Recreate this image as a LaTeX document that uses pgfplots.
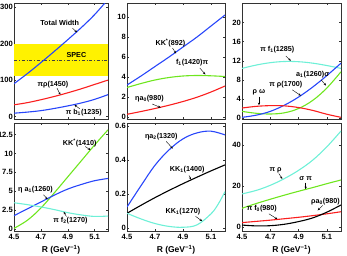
\documentclass[border=0pt]{standalone}
\usepackage{fontspec}
\setmainfont{Liberation Sans}
\usepackage{pgfplots}
\pgfplotsset{compat=1.18}
\usetikzlibrary{arrows.meta}
\definecolor{mblue}{RGB}{40,70,250}
\definecolor{mred}{RGB}{250,30,30}
\definecolor{mgreen}{RGB}{110,230,30}
\definecolor{mcyan}{RGB}{110,240,215}
\newcommand{\anno}{\bfseries\fontsize{7.2}{7.5}\selectfont}
\tikzset{arr/.style={-{Stealth[length=2.6pt,width=2.2pt]}, line width=0.4pt, black}}
\pgfplotsset{
  pan/.style={scale only axis, anchor=north west,
    xmin=4.5, xmax=5.2, xtick={4.5,4.7,4.9,5.1},
    tick align=inside, major tick length=2pt,
    axis line style={line width=0.5pt, black!80},
    tick style={black!80, line width=0.4pt},
    ticklabel style={font=\bfseries\fontsize{7.6}{8}\selectfont},
    /pgf/number format/assume math mode=true,
    /pgf/number format/fixed,
    xticklabel style={/pgf/number format/precision=1, /pgf/number format/fixed zerofill},
    yticklabel style={inner xsep=1pt},
    scaled y ticks=false,
    every axis plot/.append style={line width=1.1pt, smooth, tension=0.6, mark=none},
    xlabel style={font=\bfseries\fontsize{8.5}{9}\selectfont, yshift=1pt},
  },
  ptop/.style={pan, xticklabels={}},
  pbot/.style={pan, xlabel={R (GeV\textsuperscript{−1})}},
}
\begin{document}
\begin{tikzpicture}
\path[use as bounding box] (0,0) rectangle (347pt,-255pt);
% ---------------- Panel 1
\begin{axis}[ptop, at={(14pt,-3pt)}, width=94pt, height=116pt,
  ymin=-7, ymax=312, ytick={0,100,200,300}]
\addplot[fill=yellow, draw=none, line width=0pt, sharp plot] coordinates {(4.5,110) (5.2,110) (5.2,200) (4.5,200)} -- cycle;
\addplot[black!75, line width=0.5pt, dash dot, sharp plot] coordinates {(4.5,155) (5.2,155)};
\addplot[mblue] coordinates {(4.5,90) (4.6,118) (4.7,148) (4.8,179) (4.9,211) (5.0,244) (5.1,280) (5.2,322)};
\addplot[mred] coordinates {(4.5,32) (4.6,38) (4.7,46) (4.8,55) (4.9,65) (5.0,76) (5.1,88) (5.2,100)};
\addplot[mblue] coordinates {(4.5,9) (4.6,12) (4.7,16) (4.8,22) (4.9,29) (5.0,37) (5.1,47) (5.2,60)};
\node[font=\anno] at (axis cs:4.84,256) {Total Width};
\draw[arr] (axis cs:4.935,243) -- (axis cs:4.97,231);
\node[font=\anno] at (axis cs:4.965,170) {SPEC};
\node[font=\anno] at (axis cs:4.79,87) {πρ(1450)};
\draw[arr] (axis cs:4.82,78) -- (axis cs:4.845,60);
\node[font=\anno] at (axis cs:5.02,10) {π b\textsubscript{1}(1235)};
\draw[arr] (axis cs:4.99,21) -- (axis cs:4.95,32);
\end{axis}
% ---------------- Panel 2
\begin{axis}[ptop, at={(127pt,-3pt)}, width=98pt, height=116pt,
  ymin=-0.2, ymax=11.4, ytick={0,2,4,6,8,10}]
\addplot[mblue] coordinates {(4.5,3.2) (4.6,4.1) (4.7,5.05) (4.8,6.0) (4.9,7.0) (5.0,8.0) (5.1,9.1) (5.2,10.2)};
\addplot[mgreen] coordinates {(4.5,2.95) (4.6,3.35) (4.7,3.7) (4.8,3.95) (4.9,4.1) (5.0,4.15) (5.1,4.12) (5.2,4.05)};
\addplot[mred] coordinates {(4.5,0.27) (4.6,0.55) (4.7,0.85) (4.8,1.18) (4.9,1.55) (5.0,1.98) (5.1,2.5) (5.2,3.1)};
\node[font=\anno] at (axis cs:4.81,7.4) {KK\textsuperscript{*}(892)};
\draw[arr] (axis cs:4.825,6.9) -- (axis cs:4.85,6.35);
\node[font=\anno] at (axis cs:4.965,5.4) {f\textsubscript{1}(1420)π};
\draw[arr] (axis cs:5.02,4.9) -- (axis cs:5.06,4.25);
\node[font=\anno] at (axis cs:4.66,1.85) {ηa\textsubscript{0}(980)};
\draw[arr] (axis cs:4.68,1.3) -- (axis cs:4.74,0.95);
\end{axis}
% ---------------- Panel 3
\begin{axis}[ptop, at={(242pt,-3pt)}, width=99pt, height=116pt,
  ymin=-0.2, ymax=24.1, ytick={0,4,8,12,16,20}]
\addplot[mcyan] coordinates {(4.5,10.4) (4.6,11.1) (4.7,11.6) (4.8,11.85) (4.9,11.8) (5.0,11.5) (5.1,11.0) (5.2,10.4)};
\addplot[mgreen] coordinates {(4.5,1.4) (4.6,1.0) (4.7,0.85) (4.8,1.1) (4.9,2.0) (5.0,3.7) (5.1,6.3) (5.2,9.7)};
\addplot[mblue] coordinates {(4.5,0.15) (4.6,0.6) (4.7,1.4) (4.8,2.7) (4.9,4.4) (5.0,6.5) (5.1,8.9) (5.2,11.5)};
\addplot[mred] coordinates {(4.5,2.1) (4.6,2.45) (4.7,2.6) (4.8,2.55) (4.9,2.2) (5.0,1.6) (5.1,0.8) (5.2,0.15)};
\node[font=\anno] at (axis cs:4.75,14.3) {π f\textsubscript{1}(1285)};
\draw[arr] (axis cs:4.81,13.0) -- (axis cs:4.845,12.0);
\node[font=\anno] at (axis cs:5.0,9.1) {a\textsubscript{1}(1260)σ};
\draw[arr] (axis cs:5.06,8.0) -- (axis cs:5.094,6.8);
\node[font=\anno] at (axis cs:4.81,7.0) {π ρ(1700)};
\draw[arr] (axis cs:4.856,5.9) -- (axis cs:4.916,4.7);
\node[font=\anno] at (axis cs:4.62,5.4) {ρ ω};
\draw[arr] (axis cs:4.62,4.5) -- (axis cs:4.62,2.7);
\end{axis}
% ---------------- Panel 4
\begin{axis}[pbot, at={(14pt,-123pt)}, width=94pt, height=108pt,
  ymin=-0.22, ymax=14.0, ytick={0,2.5,5,7.5,10,12.5}]
\addplot[mgreen] coordinates {(4.5,0.13) (4.6,1.2) (4.7,2.8) (4.8,4.8) (4.9,6.9) (5.0,9.0) (5.1,11.1) (5.2,13.1)};
\addplot[mblue] coordinates {(4.5,1.8) (4.6,2.7) (4.7,3.6) (4.8,4.5) (4.9,5.3) (5.0,5.9) (5.1,6.4) (5.2,6.7)};
\addplot[mcyan] coordinates {(4.5,3.5) (4.6,3.25) (4.7,2.95) (4.8,2.6) (4.9,2.2) (5.0,1.9) (5.1,1.7) (5.2,1.75)};
\node[font=\anno] at (axis cs:4.99,11.4) {KK\textsuperscript{*}(1410)};
\draw[arr] (axis cs:5.03,10.9) -- (axis cs:5.07,10.45);
\node[font=\anno] at (axis cs:4.66,5.2) {η a\textsubscript{1}(1260)};
\draw[arr] (axis cs:4.72,4.55) -- (axis cs:4.75,3.95);
\node[font=\anno] at (axis cs:4.92,1.2) {π f\textsubscript{2}(1270)};
\draw[arr] (axis cs:4.89,1.7) -- (axis cs:4.87,2.3);
\end{axis}
% ---------------- Panel 5
\begin{axis}[pbot, at={(127pt,-123pt)}, width=98pt, height=108pt,
  ymin=-0.016, ymax=0.618, ytick={0,0.2,0.4,0.6}]
\addplot[mblue] coordinates {(4.5,0.125) (4.6,0.25) (4.7,0.37) (4.8,0.46) (4.9,0.525) (5.0,0.56) (5.1,0.57) (5.2,0.548)};
\addplot[black] coordinates {(4.5,0.088) (4.6,0.135) (4.7,0.18) (4.8,0.222) (4.9,0.262) (5.0,0.3) (5.1,0.337) (5.2,0.372)};
\addplot[mcyan] coordinates {(4.5,0.088) (4.6,0.055) (4.7,0.028) (4.8,0.011) (4.9,0.006) (5.0,0.02) (5.1,0.085) (5.15,0.14) (5.2,0.215)};
\node[font=\anno] at (axis cs:4.745,0.539) {ηa\textsubscript{2}(1320)};
\draw[arr] (axis cs:4.78,0.51) -- (axis cs:4.827,0.468);
\node[font=\anno] at (axis cs:4.93,0.343) {KK\textsubscript{1}(1400)};
\draw[arr] (axis cs:4.943,0.31) -- (axis cs:4.957,0.286);
\node[font=\anno] at (axis cs:4.9,0.098) {KK\textsubscript{1}(1270)};
\draw[arr] (axis cs:4.99,0.07) -- (axis cs:5.037,0.042);
\end{axis}
% ---------------- Panel 6
\begin{axis}[pbot, at={(242pt,-123pt)}, width=99pt, height=108pt,
  ymin=-1.8, ymax=50.9, ytick={0,20,40}]
\addplot[mcyan] coordinates {(4.5,16.3) (4.6,18.0) (4.7,20.5) (4.8,23.8) (4.9,27.8) (5.0,32.8) (5.1,39.3) (5.2,47)};
\addplot[mgreen] coordinates {(4.5,9.3) (4.6,11.6) (4.7,13.7) (4.8,15.7) (4.9,17.6) (5.0,19.4) (5.1,21.3) (5.2,23.1)};
\addplot[mred] coordinates {(4.5,2.3) (4.6,2.9) (4.7,3.5) (4.8,4.2) (4.9,4.9) (5.0,5.7) (5.1,6.6) (5.2,7.6)};
\addplot[black] coordinates {(4.5,1.1) (4.6,0.7) (4.7,0.8) (4.8,1.5) (4.9,2.8) (5.0,4.6) (5.1,7.4) (5.2,10.9)};
\node[font=\anno] at (axis cs:4.737,28) {π ρ};
\draw[arr] (axis cs:4.76,26.3) -- (axis cs:4.785,23.6);
\node[font=\anno] at (axis cs:4.95,24.0) {σ π};
\draw[arr] (axis cs:4.95,21.8) -- (axis cs:4.95,18.6);
\node[font=\anno] at (axis cs:4.64,9.3) {π f\textsubscript{0}(980)};
\draw[arr] (axis cs:4.69,6.6) -- (axis cs:4.75,4.0);
\node[font=\anno] at (axis cs:5.09,12.6) {ρa\textsubscript{0}(980)};
\draw[arr] (axis cs:5.07,10.6) -- (axis cs:5.035,8.3);
\end{axis}
\end{tikzpicture}
\end{document}
